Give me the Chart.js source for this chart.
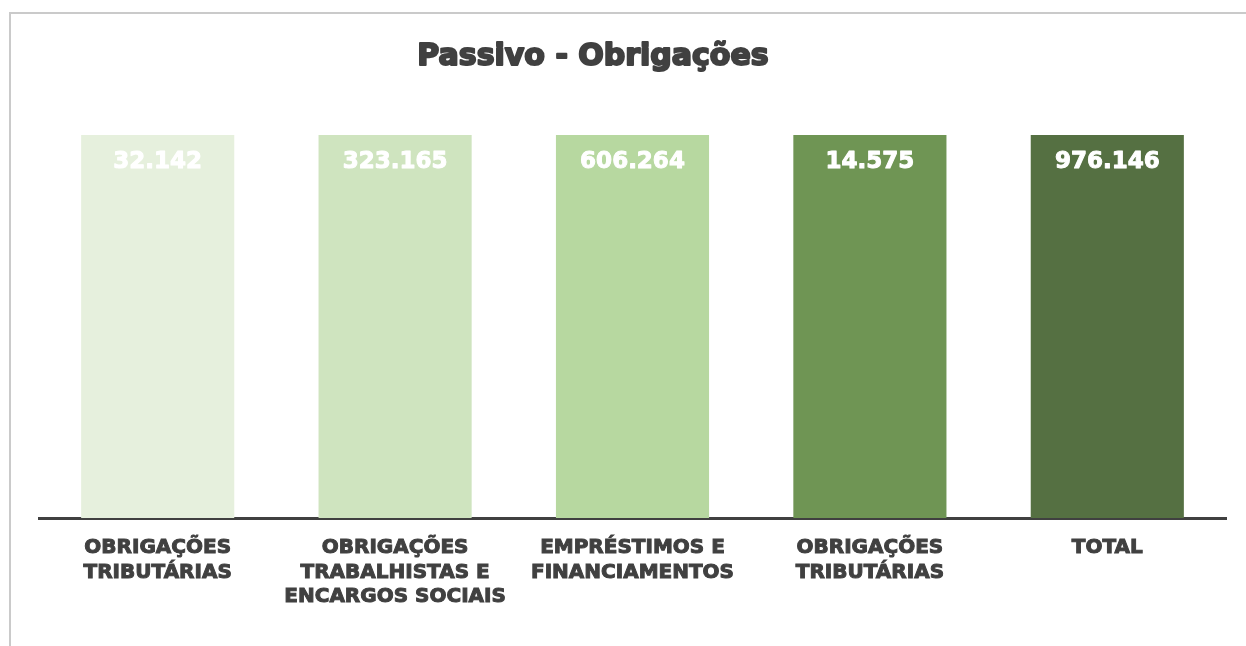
<!DOCTYPE html>
<html>
<head>
<meta charset="utf-8">
<script src="https://cdn.jsdelivr.net/npm/chart.js@4"></script>
<style>
	html, body { margin: 0; padding: 0; background: #fff; }
	#wrap { position: relative; width: 1246px; height: 646px; overflow: hidden; }
	#frame { position: absolute; left: 9px; top: 12px; width: 1300px; height: 700px;
		border-top: 2px solid #cacaca; border-left: 2px solid #cacaca; }
	canvas { position: absolute; left: 0; top: 0; }
</style>
</head>
<body>
<div id="wrap">
	<div id="frame"></div>
	<canvas id="chart" width="1246" height="646"></canvas>
</div>
<script>
const chartTitle = 'Passivo - Obrigações'
const categories = [
	['OBRIGAÇÕES', 'TRIBUTÁRIAS'],
	['OBRIGAÇÕES', 'TRABALHISTAS E', 'ENCARGOS SOCIAIS'],
	['EMPRÉSTIMOS E', 'FINANCIAMENTOS'],
	['OBRIGAÇÕES', 'TRIBUTÁRIAS'],
	['TOTAL'],
]
// valores exibidos em cima de cada barra
const valueLabels = ['32.142', '323.165', '606.264', '14.575', '976.146']
// todas as barras aparecem com a mesma altura (100%)
const barShare = [100, 100, 100, 100, 100]
const barColors = ['#e6f0dd', '#cfe4bf', '#b7d8a0', '#6f9554', '#557042']

const fontFamily = '"DejaVu Sans", "Open Sans", sans-serif'
const textColor = '#404040'

// titulo e valores desenhados com contorno para ficarem mais pesados
const textPlugin = {
	id: 'heavyText',
	afterDatasetsDraw(chart) {
		const ctx = chart.ctx
		const meta = chart.getDatasetMeta(0)
		ctx.save()
		ctx.textAlign = 'center'
		ctx.textBaseline = 'middle'
		ctx.lineJoin = 'round'

		// o titulo fica um pouco a esquerda do centro, como no original
		ctx.font = 'bold 30px ' + fontFamily
		ctx.fillStyle = textColor
		ctx.strokeStyle = textColor
		ctx.lineWidth = 2
		ctx.strokeText(chartTitle, 593, 57)
		ctx.fillText(chartTitle, 593, 57)

		ctx.font = 'bold 23px ' + fontFamily
		ctx.fillStyle = '#ffffff'
		ctx.strokeStyle = '#ffffff'
		ctx.lineWidth = 1
		meta.data.forEach((bar, i) => {
			ctx.strokeText(valueLabels[i], bar.x, bar.y + 27)
			ctx.fillText(valueLabels[i], bar.x, bar.y + 27)
		})
		ctx.restore()
	},
}

const ctx = document.getElementById('chart').getContext('2d')
new Chart(ctx, {
	type: 'bar',
	data: {
		labels: categories,
		datasets: [
			{
				data: barShare,
				backgroundColor: barColors,
				borderWidth: 0,
				categoryPercentage: 1,
				barPercentage: 0.645,
			},
		],
	},
	options: {
		responsive: false,
		animation: false,
		layout: { padding: { left: 39, right: 20, top: 135, bottom: 0 } },
		plugins: {
			legend: { display: false },
			tooltip: { enabled: false },
			title: { display: false },
		},
		scales: {
			x: {
				grid: { display: false, drawTicks: false },
				border: { display: true, color: '#404040', width: 3 },
				ticks: {
					color: textColor,
					textStrokeColor: textColor,
					textStrokeWidth: 1,
					font: { family: fontFamily, size: 20, weight: 'bold', lineHeight: 1.22 },
					padding: 18,
					maxRotation: 0,
					autoSkip: false,
				},
				afterFit: scale => {
					scale.height = 128
				},
			},
			y: {
				display: false,
				min: 0,
				max: 100,
			},
		},
	},
	plugins: [textPlugin],
})
</script>
</body>
</html>
